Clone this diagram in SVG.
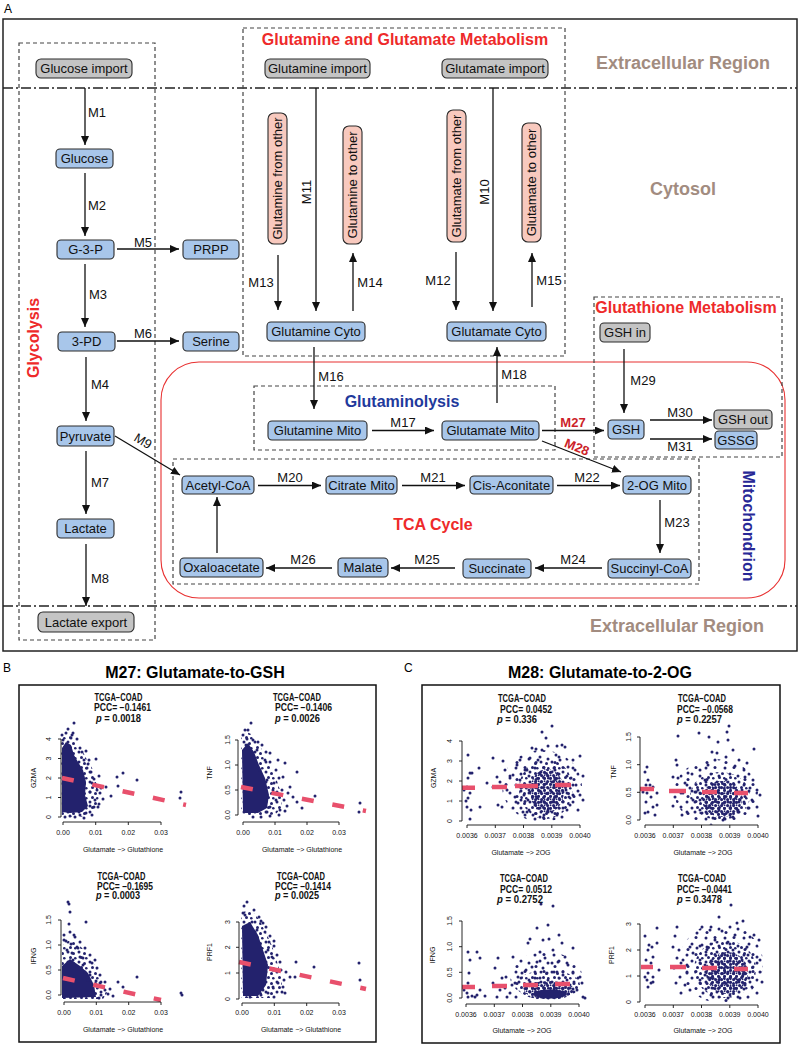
<svg xmlns="http://www.w3.org/2000/svg" width="800" height="1045" viewBox="0 0 800 1045">
<defs>
<style>
text{font-family:"Liberation Sans",Arial,sans-serif}
.ln{stroke:#111;stroke-width:1.3;fill:none;marker-end:url(#ah)}
.dbox{fill:none;stroke:#444;stroke-width:1.2;stroke-dasharray:4 3}
.dd{stroke:#222;stroke-width:1.5;stroke-dasharray:10 3 2 3}
.bl{fill:#a8c6ea;stroke:#2a2a2a;stroke-width:1.1}
.gr{fill:#c4c4c4;stroke:#2a2a2a;stroke-width:1.1}
.pk{fill:#f8c9be;stroke:#2a2a2a;stroke-width:1.1}
.nt{font-size:13px;text-anchor:middle;fill:#111}
.ml{font-size:13px;text-anchor:middle;fill:#111}
.mr{font-size:13px;text-anchor:middle;fill:#cc1f2a;font-weight:bold}
.ttl{font-size:16px;font-weight:bold;text-anchor:middle}
.red{fill:#ee2a2a}
.blu{fill:#1f3a9c}
.reg{font-size:18px;font-weight:bold;fill:#a28c80;text-anchor:middle}
.ph{font-size:10px;font-weight:bold;fill:#111}
.tk{font-size:7px;text-anchor:middle;fill:#111}
.ax{stroke:#111;stroke-width:0.9;fill:none}
.pt{fill:none;stroke:#23226d;stroke-width:3;stroke-linecap:round}
.core{fill:#23226d}
.rl{stroke:#e8506c;stroke-width:4.5;fill:none}
.rd{stroke-dasharray:12 19}
</style>
<marker id="ah" markerUnits="userSpaceOnUse" markerWidth="9" markerHeight="8" refX="9" refY="4" orient="auto"><path d="M0,0L9,4L0,8z" fill="#111"/></marker>
<pattern id="pd" width="6" height="6" patternUnits="userSpaceOnUse"><circle cx="1.6" cy="1.6" r="1.55" fill="#23226d"/><circle cx="4.5" cy="4.4" r="1.55" fill="#23226d"/><circle cx="4.6" cy="1.2" r="0.9" fill="#23226d"/></pattern>
<pattern id="pm" width="11" height="10" patternUnits="userSpaceOnUse"><g fill="#23226d"><circle cx="2" cy="2" r="1.5"/><circle cx="7.5" cy="3.5" r="1.5"/><circle cx="4.5" cy="7.5" r="1.5"/><circle cx="9.3" cy="8.3" r="1.3"/></g></pattern>
<pattern id="ps" width="19" height="17" patternUnits="userSpaceOnUse"><g fill="#23226d"><circle cx="3" cy="3" r="1.5"/><circle cx="12" cy="2.5" r="1.5"/><circle cx="8" cy="9" r="1.5"/><circle cx="16" cy="11" r="1.5"/><circle cx="4" cy="14.5" r="1.5"/></g></pattern>
</defs>
<rect width="800" height="1045" fill="#fff"/>

<!-- Panel A frame -->
<text x="4" y="12.5" font-size="12">A</text>
<rect x="3" y="19" width="794" height="632" fill="none" stroke="#222" stroke-width="1.5"/>
<line class="dd" x1="3" y1="88" x2="797" y2="88"/>
<line class="dd" x1="3" y1="606" x2="797" y2="606"/>

<g id="regions">
<rect x="161" y="362" width="624" height="236" rx="38" fill="none" stroke="#e83030" stroke-width="1.1"/>
<rect class="dbox" x="19" y="43" width="136" height="597"/>
<rect class="dbox" x="243" y="28" width="322" height="328"/>
<rect class="dbox" x="594" y="297" width="188" height="160"/>
<rect class="dbox" x="254" y="386" width="301" height="64"/>
<rect class="dbox" x="173" y="459" width="526" height="125"/>
<text class="ttl red" x="405" y="45">Glutamine and Glutamate Metabolism</text>
<text class="ttl red" x="686" y="313">Glutathione Metabolism</text>
<text class="ttl blu" x="402" y="407">Glutaminolysis</text>
<text class="ttl red" x="433" y="530">TCA Cycle</text>
<text class="ttl red" transform="translate(33,338) rotate(-90)" y="5.5">Glycolysis</text>
<text class="ttl" fill="#282896" transform="translate(748,526) rotate(90)" y="5.5">Mitochondrion</text>
<text class="reg" x="683" y="69">Extracellular Region</text>
<text class="reg" x="683" y="195">Cytosol</text>
<text class="reg" x="677" y="632">Extracellular Region</text>
</g>

<g id="connectors">
<line class="ln" x1="85" y1="88" x2="85" y2="145"/>
<line class="ln" x1="85" y1="173" x2="85" y2="236"/>
<line class="ln" x1="117" y1="249" x2="179" y2="249"/>
<line class="ln" x1="85" y1="264" x2="85" y2="327"/>
<line class="ln" x1="117" y1="341" x2="179" y2="341"/>
<line class="ln" x1="86" y1="357" x2="86" y2="421"/>
<line class="ln" x1="115" y1="436" x2="180" y2="475"/>
<line class="ln" x1="86" y1="451" x2="86" y2="514"/>
<line class="ln" x1="86" y1="544" x2="86" y2="606"/>
<line class="ln" x1="278" y1="255" x2="278" y2="310"/>
<line class="ln" x1="316" y1="88" x2="316" y2="311"/>
<line class="ln" x1="353" y1="311" x2="353" y2="253"/>
<line class="ln" x1="456" y1="252" x2="456" y2="310"/>
<line class="ln" x1="493" y1="88" x2="493" y2="311"/>
<line class="ln" x1="532" y1="307" x2="532" y2="253"/>
<line class="ln" x1="314" y1="347" x2="314" y2="409"/>
<line class="ln" x1="372" y1="430.5" x2="434" y2="430.5"/>
<line class="ln" x1="497" y1="403" x2="497" y2="347"/>
<line class="ln" x1="542" y1="430.5" x2="604" y2="430.5"/>
<line class="ln" x1="542" y1="441" x2="621" y2="472"/>
<line class="ln" x1="624" y1="349" x2="624" y2="413"/>
<line class="ln" x1="650" y1="420" x2="712" y2="420"/>
<line class="ln" x1="650" y1="439" x2="712" y2="439"/>
<line class="ln" x1="258" y1="485.5" x2="321" y2="485.5"/>
<line class="ln" x1="402" y1="485.5" x2="465" y2="485.5"/>
<line class="ln" x1="557" y1="485.5" x2="620" y2="485.5"/>
<line class="ln" x1="660" y1="500" x2="660" y2="553"/>
<line class="ln" x1="602" y1="568" x2="535" y2="568"/>
<line class="ln" x1="455" y1="568" x2="391" y2="568"/>
<line class="ln" x1="332" y1="568" x2="266" y2="568"/>
<line class="ln" x1="217" y1="553" x2="217" y2="497"/>
<text class="ml" x="97" y="116.5">M1</text>
<text class="ml" x="97" y="209.5">M2</text>
<text class="ml" x="143" y="246.5">M5</text>
<text class="ml" x="98" y="298.5">M3</text>
<text class="ml" x="143" y="338">M6</text>
<text class="ml" x="100" y="388.5">M4</text>
<text class="ml" transform="translate(143,441) rotate(31)" y="4.5">M9</text>
<text class="ml" x="100" y="486.5">M7</text>
<text class="ml" x="100" y="582.5">M8</text>
<text class="ml" x="261" y="286.5">M13</text>
<text class="ml" transform="translate(306,192) rotate(-90)" y="4.5">M11</text>
<text class="ml" x="370" y="286.5">M14</text>
<text class="ml" x="438" y="284.5">M12</text>
<text class="ml" transform="translate(484,192) rotate(-90)" y="4.5">M10</text>
<text class="ml" x="549" y="284.5">M15</text>
<text class="ml" x="331" y="380.5">M16</text>
<text class="ml" x="403" y="427">M17</text>
<text class="ml" x="514" y="378.5">M18</text>
<text class="mr" x="573" y="427">M27</text>
<text class="mr" transform="translate(577,447) rotate(22)" y="4.5">M28</text>
<text class="ml" x="643" y="384.5">M29</text>
<text class="ml" x="680" y="417">M30</text>
<text class="ml" x="680" y="450.5">M31</text>
<text class="ml" x="290" y="482">M20</text>
<text class="ml" x="433" y="482">M21</text>
<text class="ml" x="587" y="482">M22</text>
<text class="ml" x="677" y="526.5">M23</text>
<text class="ml" x="573" y="564">M24</text>
<text class="ml" x="427" y="564">M25</text>
<text class="ml" x="303" y="564">M26</text>
</g>

<g id="n-glucose-import"><rect class="gr" x="36" y="59" width="96" height="19" rx="5"/><text class="nt" x="84" y="73">Glucose import</text></g>
<g id="n-glutamine-import"><rect class="gr" x="265" y="59" width="105" height="19" rx="5"/><text class="nt" x="317.5" y="73">Glutamine import</text></g>
<g id="n-glutamate-import"><rect class="gr" x="442" y="59" width="106" height="19" rx="5"/><text class="nt" x="495" y="73">Glutamate import</text></g>
<g id="n-lactate-export"><rect class="gr" x="38" y="612" width="96" height="20" rx="5"/><text class="nt" x="86" y="626.5">Lactate export</text></g>
<g id="n-gsh-in"><rect class="gr" x="600" y="323" width="50" height="19" rx="4"/><text class="nt" x="625" y="337">GSH in</text></g>
<g id="n-gsh-out"><rect class="gr" x="714" y="410" width="58" height="19" rx="4"/><text class="nt" x="743" y="424">GSH out</text></g>
<g id="n-glucose"><rect class="bl" x="56" y="149" width="57" height="19" rx="4"/><text class="nt" x="84.5" y="163">Glucose</text></g>
<g id="n-g3p"><rect class="bl" x="57" y="240" width="57" height="19" rx="4"/><text class="nt" x="85.5" y="254">G-3-P</text></g>
<g id="n-prpp"><rect class="bl" x="183" y="240" width="56" height="19" rx="4"/><text class="nt" x="211" y="254">PRPP</text></g>
<g id="n-3pd"><rect class="bl" x="58" y="332" width="57" height="19" rx="4"/><text class="nt" x="86.5" y="346">3-PD</text></g>
<g id="n-serine"><rect class="bl" x="183" y="332" width="56" height="19" rx="4"/><text class="nt" x="211" y="346">Serine</text></g>
<g id="n-pyruvate"><rect class="bl" x="57" y="426" width="57" height="20" rx="4"/><text class="nt" x="85.5" y="440.5">Pyruvate</text></g>
<g id="n-lactate"><rect class="bl" x="57" y="519" width="57" height="19" rx="4"/><text class="nt" x="85.5" y="533">Lactate</text></g>
<g id="n-glutamine-cyto"><rect class="bl" x="267" y="322" width="98" height="19" rx="4"/><text class="nt" x="316" y="336">Glutamine Cyto</text></g>
<g id="n-glutamate-cyto"><rect class="bl" x="447" y="322" width="99" height="19" rx="4"/><text class="nt" x="496.5" y="336">Glutamate Cyto</text></g>
<g id="n-glutamine-mito"><rect class="bl" x="268" y="421" width="99" height="19" rx="4"/><text class="nt" x="317.5" y="435">Glutamine Mito</text></g>
<g id="n-glutamate-mito"><rect class="bl" x="442" y="421" width="97" height="19" rx="4"/><text class="nt" x="490.5" y="435">Glutamate Mito</text></g>
<g id="n-gsh"><rect class="bl" x="608" y="420" width="36" height="19" rx="4"/><text class="nt" x="626" y="434">GSH</text></g>
<g id="n-gssg"><rect class="bl" x="715" y="431" width="42" height="18" rx="4"/><text class="nt" x="736" y="444.5">GSSG</text></g>
<g id="n-acetyl-coa"><rect class="bl" x="182" y="476" width="72" height="18" rx="4"/><text class="nt" x="218" y="489.5">Acetyl-CoA</text></g>
<g id="n-citrate-mito"><rect class="bl" x="326" y="476" width="71" height="18" rx="4"/><text class="nt" x="361.5" y="489.5">Citrate Mito</text></g>
<g id="n-cis-aconitate"><rect class="bl" x="470" y="476" width="83" height="18" rx="4"/><text class="nt" x="511.5" y="489.5">Cis-Aconitate</text></g>
<g id="n-2og-mito"><rect class="bl" x="623" y="476" width="68" height="18" rx="4"/><text class="nt" x="657" y="489.5">2-OG Mito</text></g>
<g id="n-succinyl-coa"><rect class="bl" x="608" y="559" width="83" height="19" rx="4"/><text class="nt" x="649.5" y="573">Succinyl-CoA</text></g>
<g id="n-succinate"><rect class="bl" x="463" y="559" width="68" height="19" rx="4"/><text class="nt" x="497" y="573">Succinate</text></g>
<g id="n-malate"><rect class="bl" x="338" y="558" width="50" height="19" rx="4"/><text class="nt" x="363" y="572">Malate</text></g>
<g id="n-oxaloacetate"><rect class="bl" x="180" y="558" width="83" height="19" rx="4"/><text class="nt" x="221.5" y="572">Oxaloacetate</text></g>
<g id="n-glutamine-from-other"><rect class="pk" x="268" y="113" width="19" height="131" rx="6"/><text class="nt" transform="translate(277.5,178.5) rotate(-90)" y="4.5">Glutamine from other</text></g>
<g id="n-glutamine-to-other"><rect class="pk" x="343" y="126" width="19" height="118" rx="6"/><text class="nt" transform="translate(352.5,185) rotate(-90)" y="4.5">Glutamine to other</text></g>
<g id="n-glutamate-from-other"><rect class="pk" x="447" y="110" width="19" height="132" rx="6"/><text class="nt" transform="translate(456.5,176) rotate(-90)" y="4.5">Glutamate from other</text></g>
<g id="n-glutamate-to-other"><rect class="pk" x="522" y="123" width="19" height="119" rx="6"/><text class="nt" transform="translate(531.5,182.5) rotate(-90)" y="4.5">Glutamate to other</text></g>

<!-- Panel B -->
<g id="panel-b">
<text x="3" y="672" font-size="12">B</text>
<text class="ttl" x="195" y="678">M27: Glutamate-to-GSH</text>
<rect x="19" y="685" width="357" height="357" fill="none" stroke="#111" stroke-width="1.5"/>

<g id="plot-b-gzma">
<text class="ph" x="94.5" y="700.5" textLength="48" lengthAdjust="spacingAndGlyphs">TCGA−COAD</text>
<text class="ph" x="94" y="711" textLength="57" lengthAdjust="spacingAndGlyphs">PCC= −0.1461</text>
<text class="ph" x="96" y="721.5" textLength="45" lengthAdjust="spacingAndGlyphs"><tspan font-style="italic">p</tspan> = 0.0018</text>
<polygon points="61,738 66,734 72,737 77,745 82,750 86,758 90,764 93,770 95,778 97,786 99,795 98,803 95,810 90,815 80,817 62,817" fill="url(#pm)"/>
<polygon class="core" points="62,748 66,742 71,745 74,755 78,762 83,770 86,782 85,795 88,806 82,812 70,813 62,812"/>
<path class="pt" d="M68 729h.01M74 723h.01M72 735h.01M66 733h.01M86 751h.01M96 759h.01M87 768h.01M117 777h.01M123 773h.01M137 780h.01M106 787h.01M118 786h.01M181 792h.01M180 798h.01M111 796h.01M94 807h.01M98 807h.01M86 813h.01M80 815h.01M65 817h.01M100 793h.01M95 800h.01M90 792h.01M77 739h.01M82 752h.01M103 799h.01M92 783h.01M89 760h.01M99 776h.01M63 740h.01M70 816h.01M84 760h.01M88 764h.01M91 772h.01M94 779h.01M97 790h.01M99 804h.01M92 815h.01M75 817h.01M62 735h.01M71 738h.01M80 748h.01M90 806h.01M101 788h.01M84 818h.01M73 733h.01"/>
<line class="rl rd" x1="62" y1="778" x2="186" y2="805"/>
<path class="ax" d="M61 739V817M58 739H61M58 758.5H61M58 778H61M58 797.5H61M58 817H61M63 822H161M63 822v3M95.7 822v3M128.3 822v3M161 822v3"/>
<text class="tk" transform="translate(51,739) rotate(-90)">4</text>
<text class="tk" transform="translate(51,758.5) rotate(-90)">3</text>
<text class="tk" transform="translate(51,778) rotate(-90)">2</text>
<text class="tk" transform="translate(51,797.5) rotate(-90)">1</text>
<text class="tk" transform="translate(51,817) rotate(-90)">0</text>
<text class="tk" x="63" y="835">0.00</text><text class="tk" x="95.7" y="835">0.01</text><text class="tk" x="128.3" y="835">0.02</text><text class="tk" x="161" y="835">0.03</text>
<text class="tk" x="123" y="852">Glutamate −&gt; Glutathione</text>
<text class="tk" transform="translate(35.5,778) rotate(-90)">GZMA</text>
</g>

<g id="plot-b-tnf">
<text class="ph" x="273" y="700.5" textLength="48" lengthAdjust="spacingAndGlyphs">TCGA−COAD</text>
<text class="ph" x="275" y="711" textLength="57" lengthAdjust="spacingAndGlyphs">PCC= −0.1406</text>
<text class="ph" x="275" y="721.5" textLength="45" lengthAdjust="spacingAndGlyphs"><tspan font-style="italic">p</tspan> = 0.0026</text>
<polygon points="241,736 247,732 253,735 258,742 262,750 266,758 270,766 274,773 277,781 280,790 282,799 281,808 276,814 265,816 241,816" fill="url(#pm)"/>
<polygon class="core" points="242,750 248,743 254,752 259,765 265,778 269,795 267,808 258,813 243,813"/>
<path class="pt" d="M251 723h.01M248 730h.01M243 735h.01M247 739h.01M297 772h.01M285 763h.01M278 760h.01M270 753h.01M283 777h.01M290 787h.01M315 796h.01M297 802h.01M293 797h.01M360 803h.01M359 812h.01M279 815h.01M270 807h.01M253 817h.01M267 812h.01M276 800h.01M273 790h.01M267 780h.01M260 770h.01M257 750h.01M253 740h.01M265 760h.01M246 745h.01M288 793h.01M302 808h.01M285 811h.01M262 745h.01M266 752h.01M270 762h.01M276 770h.01M279 778h.01M282 790h.01M284 800h.01M280 810h.01M270 816h.01M245 730h.01M258 742h.01M274 783h.01M287 806h.01M261 817h.01"/>
<line class="rl rd" x1="241" y1="787" x2="366" y2="811"/>
<path class="ax" d="M238 740V815M235 740H238M235 765H238M235 790H238M235 815H238M243 822H339M243 822v3M275 822v3M307 822v3M339 822v3"/>
<text class="tk" transform="translate(229.5,740) rotate(-90)">1.5</text>
<text class="tk" transform="translate(229.5,765) rotate(-90)">1.0</text>
<text class="tk" transform="translate(229.5,790) rotate(-90)">0.5</text>
<text class="tk" transform="translate(229.5,815) rotate(-90)">0.0</text>
<text class="tk" x="243" y="835">0.00</text><text class="tk" x="275" y="835">0.01</text><text class="tk" x="307" y="835">0.02</text><text class="tk" x="339" y="835">0.03</text>
<text class="tk" x="302" y="852">Glutamate −&gt; Glutathione</text>
<text class="tk" transform="translate(211.5,773) rotate(-90)">TNF</text>
</g>

<g id="plot-b-ifng">
<text class="ph" x="97.5" y="880" textLength="48" lengthAdjust="spacingAndGlyphs">TCGA−COAD</text>
<text class="ph" x="97" y="889.5" textLength="56" lengthAdjust="spacingAndGlyphs">PCC= −0.1695</text>
<text class="ph" x="96" y="899" textLength="44" lengthAdjust="spacingAndGlyphs"><tspan font-style="italic">p</tspan> = 0.0003</text>
<polygon points="62,946 68,941 74,940 79,945 84,950 89,956 93,962 97,970 101,978 105,986 107,993 103,999 62,999" fill="url(#pm)"/>
<polygon class="core" points="62,966 70,959 80,966 88,973 94,985 96,997 62,998"/>
<path class="pt" d="M68 902h.01M69 904h.01M70 912h.01M69 924h.01M70 932h.01M74 935h.01M86 922h.01M75 937h.01M66 941h.01M77 947h.01M67 950h.01M72 953h.01M78 948h.01M73 960h.01M68 963h.01M80 957h.01M83 958h.01M83 965h.01M92 963h.01M97 968h.01M96 981h.01M100 983h.01M105 990h.01M110 989h.01M118 982h.01M123 987h.01M137 977h.01M181 993h.01M182 995h.01M90 975h.01M88 980h.01M113 996h.01M101 995h.01M64 935h.01M80 942h.01M85 948h.01M90 955h.01M95 960h.01M100 975h.01M105 982h.01M108 994h.01M99 998h.01M64 940h.01M71 944h.01M85 972h.01M92 990h.01"/>
<line class="rl rd" x1="63" y1="978" x2="161" y2="1000"/>
<path class="ax" d="M61 920V995M58 920H61M58 945H61M58 970H61M58 995H61M64 1002H161M64 1002v3M96.3 1002v3M128.7 1002v3M161 1002v3"/>
<text class="tk" transform="translate(51,920) rotate(-90)">1.5</text>
<text class="tk" transform="translate(51,945) rotate(-90)">1.0</text>
<text class="tk" transform="translate(51,970) rotate(-90)">0.5</text>
<text class="tk" transform="translate(51,995) rotate(-90)">0.0</text>
<text class="tk" x="64" y="1015">0.00</text><text class="tk" x="96.3" y="1015">0.01</text><text class="tk" x="128.7" y="1015">0.02</text><text class="tk" x="161" y="1015">0.03</text>
<text class="tk" x="123" y="1032">Glutamate −&gt; Glutathione</text>
<text class="tk" transform="translate(35.5,956) rotate(-90)">IFNG</text>
</g>

<g id="plot-b-prf1">
<text class="ph" x="277" y="880" textLength="48" lengthAdjust="spacingAndGlyphs">TCGA−COAD</text>
<text class="ph" x="275" y="889.5" textLength="56" lengthAdjust="spacingAndGlyphs">PCC= −0.1414</text>
<text class="ph" x="275" y="899" textLength="44" lengthAdjust="spacingAndGlyphs"><tspan font-style="italic">p</tspan> = 0.0025</text>
<polygon points="241,913 248,910 255,914 260,921 264,929 268,937 272,946 275,955 278,965 281,975 282,986 279,995 270,998 241,998" fill="url(#pm)"/>
<polygon class="core" points="242,926 250,922 258,935 263,950 268,965 266,985 258,996 243,996"/>
<path class="pt" d="M247 902h.01M243 913h.01M245 915h.01M252 922h.01M261 921h.01M263 923h.01M257 930h.01M265 932h.01M269 942h.01M274 941h.01M268 950h.01M272 957h.01M280 962h.01M273 970h.01M290 977h.01M295 977h.01M314 967h.01M296 962h.01M359 963h.01M360 980h.01M273 987h.01M278 983h.01M283 987h.01M268 993h.01M261 995h.01M263 990h.01M285 993h.01M250 997h.01M254 910h.01M259 917h.01M266 927h.01M270 936h.01M274 946h.01M277 955h.01M281 970h.01M284 980h.01M282 992h.01M274 997h.01M244 906h.01M286 972h.01"/>
<line class="rl rd" x1="239" y1="962" x2="366" y2="989"/>
<path class="ax" d="M239 922V999M236 922H239M236 947.3H239M236 973H239M236 999H239M242 1003H339M242 1003v3M274.3 1003v3M306.7 1003v3M339 1003v3"/>
<text class="tk" transform="translate(229.5,922) rotate(-90)">3</text>
<text class="tk" transform="translate(229.5,947.3) rotate(-90)">2</text>
<text class="tk" transform="translate(229.5,973) rotate(-90)">1</text>
<text class="tk" transform="translate(229.5,999) rotate(-90)">0</text>
<text class="tk" x="242" y="1015">0.00</text><text class="tk" x="274.3" y="1015">0.01</text><text class="tk" x="306.7" y="1015">0.02</text><text class="tk" x="339" y="1015">0.03</text>
<text class="tk" x="301" y="1032">Glutamate −&gt; Glutathione</text>
<text class="tk" transform="translate(211.5,952) rotate(-90)">PRF1</text>
</g>
</g>

<!-- Panel C -->
<g id="panel-c">
<text x="404" y="672" font-size="12">C</text>
<text class="ttl" x="600" y="678">M28: Glutamate-to-2-OG</text>
<rect x="422" y="685" width="358" height="358" fill="none" stroke="#111" stroke-width="1.5"/>

<g id="plot-c-gzma">
<text class="ph" x="498" y="702" textLength="48" lengthAdjust="spacingAndGlyphs">TCGA−COAD</text>
<text class="ph" x="500" y="712.5" textLength="52" lengthAdjust="spacingAndGlyphs">PCC= 0.0452</text>
<text class="ph" x="497" y="723" textLength="40" lengthAdjust="spacingAndGlyphs"><tspan font-style="italic">p</tspan> = 0.336</text>
<ellipse cx="542" cy="786" rx="40" ry="36" fill="url(#ps)"/>
<ellipse cx="546" cy="789" rx="27" ry="30" fill="url(#pm)"/>
<ellipse cx="547" cy="791" rx="17" ry="22" fill="url(#pd)"/>
<path class="pt" d="M468 755h.01M470 773h.01M468 778h.01M472 773h.01M467 787h.01M470 793h.01M468 798h.01M467 807h.01M471 810h.01M470 819h.01M479 768h.01M480 807h.01M487 783h.01M464 790h.01M466 801h.01M493 758h.01M503 761h.01M505 770h.01M497 777h.01M500 782h.01M507 790h.01M498 805h.01M502 807h.01M493 787h.01M510 778h.01M513 775h.01M515 797h.01M513 808h.01M518 803h.01M521 800h.01M523 812h.01M525 815h.01M517 765h.01M520 760h.01M525 770h.01M552 726h.01M542 732h.01M546 738h.01M532 748h.01M536 749h.01M542 750h.01M548 746h.01M557 746h.01M562 745h.01M565 747h.01M580 756h.01M573 760h.01M568 767h.01M583 776h.01M573 795h.01M580 795h.01M583 800h.01M562 817h.01M557 815h.01M548 812h.01M540 817h.01M533 815h.01M527 812h.01M530 758h.01M527 770h.01M576 785h.01M570 805h.01M535 805h.01M560 760h.01M555 770h.01M529 790h.01M571 778h.01M520 780h.01M524 795h.01M528 800h.01M566 790h.01M569 797h.01M575 770h.01M538 760h.01M556 755h.01M563 808h.01M544 815h.01M521 788h.01M578 810h.01"/>
<path class="rl" d="M462 787.7H475M492 787H507M515 786H538M555 785H571"/>
<path class="ax" d="M462 741V821M459 741H462M459 761H462M459 781H462M459 801H462M459 821H462M467 825H580M467 825v3M495.3 825v3M523.5 825v3M551.8 825v3M580 825v3"/>
<text class="tk" transform="translate(452,741) rotate(-90)">4</text>
<text class="tk" transform="translate(452,761) rotate(-90)">3</text>
<text class="tk" transform="translate(452,781) rotate(-90)">2</text>
<text class="tk" transform="translate(452,801) rotate(-90)">1</text>
<text class="tk" transform="translate(452,821) rotate(-90)">0</text>
<text class="tk" x="467" y="838">0.0036</text><text class="tk" x="495.3" y="838">0.0037</text><text class="tk" x="523.5" y="838">0.0038</text><text class="tk" x="551.8" y="838">0.0039</text><text class="tk" x="580" y="838">0.0040</text>
<text class="tk" x="521" y="855">Glutamate −&gt; 2OG</text>
<text class="tk" transform="translate(435.5,778) rotate(-90)">GZMA</text>
</g>

<g id="plot-c-tnf">
<text class="ph" x="678" y="702" textLength="48" lengthAdjust="spacingAndGlyphs">TCGA−COAD</text>
<text class="ph" x="677" y="712.5" textLength="56" lengthAdjust="spacingAndGlyphs">PCC= −0.0568</text>
<text class="ph" x="677" y="723" textLength="45" lengthAdjust="spacingAndGlyphs"><tspan font-style="italic">p</tspan> = 0.2257</text>
<ellipse cx="716" cy="792" rx="42" ry="33" fill="url(#ps)"/>
<ellipse cx="720" cy="796" rx="30" ry="24" fill="url(#pm)"/>
<ellipse cx="722" cy="799" rx="20" ry="18" fill="url(#pd)"/>
<path class="pt" d="M645 772h.01M647 767h.01M648 780h.01M646 785h.01M650 785h.01M653 787h.01M647 793h.01M651 797h.01M646 802h.01M653 807h.01M648 812h.01M645 813h.01M657 805h.01M655 815h.01M643 792h.01M657 793h.01M678 736h.01M676 760h.01M677 765h.01M673 777h.01M678 778h.01M685 783h.01M690 788h.01M683 793h.01M675 797h.01M673 806h.01M681 807h.01M687 812h.01M682 815h.01M693 800h.01M696 792h.01M688 773h.01M699 733h.01M709 737h.01M718 742h.01M727 732h.01M729 726h.01M717 753h.01M733 750h.01M747 763h.01M754 749h.01M739 760h.01M715 760h.01M708 765h.01M745 777h.01M753 780h.01M757 790h.01M760 795h.01M752 800h.01M757 807h.01M748 808h.01M758 816h.01M733 817h.01M723 820h.01M713 818h.01M702 813h.01M728 740h.01M735 766h.01M742 790h.01M705 780h.01M738 812h.01M700 800h.01M700 770h.01M706 806h.01M744 770h.01M740 800h.01M730 815h.01M712 752h.01M726 757h.01M750 788h.01M698 790h.01M695 812h.01"/>
<path class="rl" d="M640 789H654M669 791H686M702 792H717M734 793H748"/>
<path class="ax" d="M640 737V820M637 737H640M637 764.7H640M637 792.3H640M637 820H640M645 825H758M645 825v3M673.3 825v3M701.5 825v3M729.8 825v3M758 825v3"/>
<text class="tk" transform="translate(630.5,737) rotate(-90)">1.5</text>
<text class="tk" transform="translate(630.5,764.7) rotate(-90)">1.0</text>
<text class="tk" transform="translate(630.5,792.3) rotate(-90)">0.5</text>
<text class="tk" transform="translate(630.5,820) rotate(-90)">0.0</text>
<text class="tk" x="645" y="838">0.0036</text><text class="tk" x="673.3" y="838">0.0037</text><text class="tk" x="701.5" y="838">0.0038</text><text class="tk" x="729.8" y="838">0.0039</text><text class="tk" x="758" y="838">0.0040</text>
<text class="tk" x="703" y="855">Glutamate −&gt; 2OG</text>
<text class="tk" transform="translate(615.5,772) rotate(-90)">TNF</text>
</g>

<g id="plot-c-ifng">
<text class="ph" x="500" y="882" textLength="48" lengthAdjust="spacingAndGlyphs">TCGA−COAD</text>
<text class="ph" x="500" y="892.5" textLength="52" lengthAdjust="spacingAndGlyphs">PCC= 0.0512</text>
<text class="ph" x="497" y="903" textLength="46" lengthAdjust="spacingAndGlyphs"><tspan font-style="italic">p</tspan> = 0.2752</text>
<ellipse cx="546" cy="976" rx="36" ry="24" fill="url(#ps)"/>
<ellipse cx="548" cy="985" rx="32" ry="15" fill="url(#pm)"/>
<ellipse cx="549" cy="990" rx="25" ry="9" fill="url(#pd)"/>
<ellipse class="core" cx="550" cy="994" rx="17" ry="4.5"/>
<path class="pt" d="M468 952h.01M477 952h.01M480 958h.01M470 960h.01M469 973h.01M468 983h.01M470 987h.01M467 993h.01M472 996h.01M475 997h.01M477 995h.01M480 990h.01M485 996h.01M468 997h.01M464 990h.01M498 958h.01M495 968h.01M502 978h.01M506 977h.01M493 983h.01M500 990h.01M497 997h.01M507 997h.01M510 993h.01M513 957h.01M515 983h.01M518 977h.01M522 973h.01M516 997h.01M512 985h.01M505 988h.01M541 904h.01M553 906h.01M548 925h.01M537 928h.01M530 939h.01M528 943h.01M543 940h.01M549 939h.01M559 935h.01M562 943h.01M573 948h.01M553 950h.01M540 952h.01M545 958h.01M537 962h.01M552 963h.01M558 962h.01M565 957h.01M568 965h.01M573 973h.01M580 977h.01M582 983h.01M577 990h.01M583 997h.01M585 998h.01M532 967h.01M526 970h.01M563 975h.01M557 972h.01M547 973h.01M543 968h.01M535 978h.01M570 985h.01M528 985h.01"/>
<path class="rl" d="M462 987H475M492 986H507M523 985H538M555 984H570"/>
<path class="ax" d="M462 921V998M459 921H462M459 946.7H462M459 972.3H462M459 998H462M466 1004H579M466 1004v3M494.3 1004v3M522.5 1004v3M550.8 1004v3M579 1004v3"/>
<text class="tk" transform="translate(452,921) rotate(-90)">1.5</text>
<text class="tk" transform="translate(452,946.7) rotate(-90)">1.0</text>
<text class="tk" transform="translate(452,972.3) rotate(-90)">0.5</text>
<text class="tk" transform="translate(452,998) rotate(-90)">0.0</text>
<text class="tk" x="466" y="1017">0.0036</text><text class="tk" x="494.3" y="1017">0.0037</text><text class="tk" x="522.5" y="1017">0.0038</text><text class="tk" x="550.8" y="1017">0.0039</text><text class="tk" x="579" y="1017">0.0040</text>
<text class="tk" x="522" y="1033">Glutamate −&gt; 2OG</text>
<text class="tk" transform="translate(434.5,955) rotate(-90)">IFNG</text>
</g>

<g id="plot-c-prf1">
<text class="ph" x="678" y="882" textLength="48" lengthAdjust="spacingAndGlyphs">TCGA−COAD</text>
<text class="ph" x="677" y="892.5" textLength="55" lengthAdjust="spacingAndGlyphs">PCC= −0.0441</text>
<text class="ph" x="677" y="903" textLength="45" lengthAdjust="spacingAndGlyphs"><tspan font-style="italic">p</tspan> = 0.3478</text>
<ellipse cx="721" cy="963" rx="42" ry="40" fill="url(#ps)"/>
<ellipse cx="725" cy="969" rx="31" ry="29" fill="url(#pm)"/>
<ellipse cx="727" cy="973" rx="21" ry="21" fill="url(#pd)"/>
<path class="pt" d="M645 936h.01M649 945h.01M652 947h.01M648 950h.01M653 957h.01M646 960h.01M651 963h.01M648 973h.01M653 977h.01M647 980h.01M651 983h.01M648 987h.01M653 982h.01M657 928h.01M657 943h.01M659 970h.01M645 977h.01M675 936h.01M677 927h.01M673 947h.01M679 950h.01M677 958h.01M683 960h.01M674 968h.01M687 973h.01M680 977h.01M676 983h.01M685 985h.01M690 990h.01M681 993h.01M687 965h.01M693 953h.01M697 948h.01M690 947h.01M731 905h.01M719 917h.01M697 933h.01M702 927h.01M722 931h.01M737 923h.01M743 921h.01M750 937h.01M754 935h.01M747 947h.01M759 940h.01M757 957h.01M753 967h.01M760 972h.01M762 982h.01M752 987h.01M757 993h.01M748 997h.01M740 998h.01M728 998h.01M713 997h.01M703 993h.01M712 988h.01M700 983h.01M707 947h.01M727 943h.01M733 950h.01M715 940h.01M742 960h.01M705 965h.01M745 985h.01M700 960h.01M705 975h.01M748 955h.01M743 975h.01M735 935h.01M710 930h.01M760 960h.01M702 945h.01"/>
<path class="rl" d="M641 967H653M670 967H686M702 968H717M734 969H748"/>
<path class="ax" d="M640 924V1002M637 924H640M637 950H640M637 976H640M637 1002H640M645 1005H758M645 1005v3M673.3 1005v3M701.5 1005v3M729.8 1005v3M758 1005v3"/>
<text class="tk" transform="translate(630.5,924) rotate(-90)">3</text>
<text class="tk" transform="translate(630.5,950) rotate(-90)">2</text>
<text class="tk" transform="translate(630.5,976) rotate(-90)">1</text>
<text class="tk" transform="translate(630.5,1002) rotate(-90)">0</text>
<text class="tk" x="645" y="1017">0.0036</text><text class="tk" x="673.3" y="1017">0.0037</text><text class="tk" x="701.5" y="1017">0.0038</text><text class="tk" x="729.8" y="1017">0.0039</text><text class="tk" x="758" y="1017">0.0040</text>
<text class="tk" x="703" y="1033">Glutamate −&gt; 2OG</text>
<text class="tk" transform="translate(613.5,955) rotate(-90)">PRF1</text>
</g>
</g>
</svg>
